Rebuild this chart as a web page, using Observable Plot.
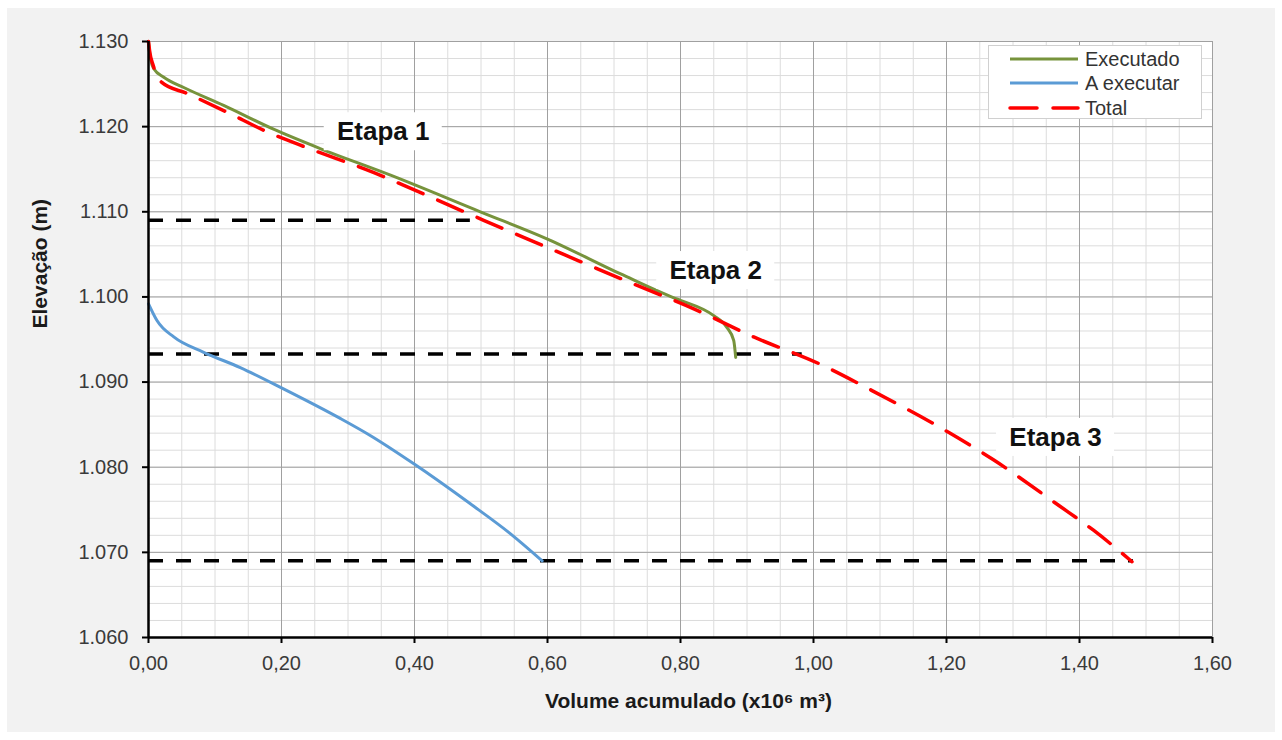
<!DOCTYPE html>
<html>
<head>
<meta charset="utf-8">
<script src="https://cdn.jsdelivr.net/npm/d3@7"></script>
<script src="https://cdn.jsdelivr.net/npm/@observablehq/plot@0.6"></script>
<style>
  html, body { margin: 0; padding: 0; background: #ffffff; }
  #panel { position: absolute; left: 7px; top: 8px; width: 1268px; height: 724px; background: #f2f2f2; }
  #chart { position: absolute; left: 0; top: 0; }
  #legend { position: absolute; left: 988px; top: 45px; width: 214px; height: 74px; background: #fff;
            border: 1px solid #d0d0d0; box-sizing: border-box; font-family: "Liberation Sans", Arial, sans-serif;
            font-size: 20px; color: #333; }
  .row { position: absolute; left: 0; height: 24px; width: 100%; }
  .row svg { position: absolute; left: 19px; top: 0; }
  .row span { position: absolute; left: 96px; top: 0; line-height: 24px; }
</style>
</head>
<body>
<div id="panel"></div>
<div id="chart"></div>
<div id="legend"></div>
<script>
// ---- data ----
const seriesNames = ["Executado", "A executar", "Total"];
const seriesColors = ["#77933c", "#5b9bd5", "#ff0000"];

const execVol  = [0, 0.003, 0.008, 0.023, 0.053, 0.113, 0.188, 0.259, 0.364, 0.499, 0.600, 0.710, 0.790, 0.800, 0.850, 0.870, 0.880, 0.883];
const execElev = [1130, 1128.0, 1126.8, 1125.8, 1124.6, 1122.5, 1119.7, 1117.4, 1114.3, 1110.0, 1106.8, 1102.7, 1099.9, 1099.6, 1097.8, 1096.4, 1094.9, 1092.9];

const aexecVol  = [0, 0.013, 0.038, 0.083, 0.138, 0.203, 0.289, 0.334, 0.399, 0.484, 0.544, 0.592];
const aexecElev = [1099.2, 1097.2, 1095.3, 1093.5, 1091.7, 1089.2, 1085.7, 1083.7, 1080.4, 1075.7, 1072.2, 1069.0];

const totalVol  = [0, 0.002, 0.007, 0.020, 0.058, 0.118, 0.178, 0.239, 0.339, 0.384, 0.504, 0.600, 0.730, 0.820, 0.910, 1.010, 1.088, 1.203, 1.270, 1.369, 1.421, 1.479];
const totalElev = [1130, 1128.7, 1127.2, 1125.2, 1123.9, 1121.7, 1119.4, 1117.5, 1114.6, 1113.1, 1109.0, 1105.8, 1101.5, 1098.6, 1095.3, 1092.1, 1089.0, 1084.1, 1080.9, 1075.5, 1072.6, 1068.9];

const levelElev  = [1109.0, 1093.3, 1069.0];
const levelStart = [0, 0, 0];
const levelEnd   = [0.484, 0.983, 1.481];

const etapaNames = ["Etapa 1", "Etapa 2", "Etapa 3"];
const etapaVol   = [0.353, 0.853, 1.364];
const etapaElev  = [1119.4, 1103.1, 1083.5];

const xTicks = [0, 0.2, 0.4, 0.6, 0.8, 1.0, 1.2, 1.4, 1.6];
const yTicks = [1060, 1070, 1080, 1090, 1100, 1110, 1120, 1130];
const xMinor = d3.range(0, 1.6001, 0.05);
const yMinor = d3.range(1060, 1130.001, 2);

const xTitle = "Volume acumulado (x10\u2076 m\u00b3)";
const yTitle = "Elevação (m)";

// ---- tables ----
const rows = (xs, ys) => xs.map((v, i) => ({v, e: ys[i]}));
const exec = rows(execVol, execElev);
const aexec = rows(aexecVol, aexecElev);
const total = rows(totalVol, totalElev);
const levels = levelElev.map((e, i) => ({e, x1: levelStart[i], x2: levelEnd[i]}));
const etapas = etapaNames.map((t, i) => ({t, v: etapaVol[i], e: etapaElev[i]}));

const loc = d3.formatLocale({decimal: ",", thousands: ".", grouping: [3], currency: ["", ""]});
const fx = loc.format(".2f");
const fy = loc.format(",.0f");

const font = "'Liberation Sans', Arial, sans-serif";

const chart = Plot.plot({
  width: 1282,
  height: 740,
  marginLeft: 148,
  marginRight: 70,
  marginTop: 41,
  marginBottom: 103,
  style: {fontFamily: font, background: "transparent", overflow: "visible"},
  x: {domain: [0, 1.6]},
  y: {domain: [1060, 1130]},
  marks: [
    Plot.frame({fill: "white"}),
    Plot.gridX(xMinor, {stroke: "#dcdcdc", strokeOpacity: 1, strokeWidth: 1}),
    Plot.gridY(yMinor, {stroke: "#dcdcdc", strokeOpacity: 1, strokeWidth: 1}),
    Plot.gridX(xTicks, {stroke: "#a0a0a0", strokeOpacity: 1, strokeWidth: 1}),
    Plot.gridY(yTicks, {stroke: "#a0a0a0", strokeOpacity: 1, strokeWidth: 1}),
    Plot.ruleY(levels, {y: "e", x1: "x1", x2: "x2", stroke: "#000", strokeWidth: 3.5, strokeDasharray: "15,13"}),
    Plot.line(exec, {x: "v", y: "e", stroke: seriesColors[0], strokeWidth: 3, curve: "monotone-x"}),
    Plot.line(aexec, {x: "v", y: "e", stroke: seriesColors[1], strokeWidth: 3, curve: "monotone-x"}),
    Plot.line(total, {x: "v", y: "e", stroke: seriesColors[2], strokeWidth: 3.5, strokeDasharray: "27,16", strokeLinecap: "round", curve: "monotone-x"}),
    Plot.rect(etapas, {x1: "v", x2: "v", y1: "e", y2: "e", insetLeft: -59, insetRight: -59, insetTop: -19, insetBottom: -19, fill: "white"}),
    Plot.text(etapas, {x: "v", y: "e", text: "t", fontSize: 26, fontWeight: "bold", fill: "#111"}),
    Plot.axisX(xTicks, {tickFormat: fx, fontSize: 20, tickSize: 6, tickPadding: 12, stroke: "#000", strokeWidth: 2, fill: "#3a3a3a", label: null}),
    Plot.axisY(yTicks, {tickFormat: fy, fontSize: 20, tickSize: 6, tickPadding: 14, stroke: "#000", strokeWidth: 2, fill: "#3a3a3a", label: null}),
    Plot.ruleX([0], {stroke: "#000", strokeWidth: 2.5}),
    Plot.ruleY([1060], {stroke: "#000", strokeWidth: 2.5}),
    Plot.text([xTitle], {text: d => d, frameAnchor: "bottom", dx: 8, dy: 70, fontSize: 21, fontWeight: "bold", fill: "#1a1a1a"}),
    Plot.text([yTitle], {text: d => d, frameAnchor: "left", rotate: -90, dx: -108, dy: -11, fontSize: 21, fontWeight: "bold", fill: "#1a1a1a"})
  ]
});
document.getElementById("chart").appendChild(chart);

// ---- legend ----
const legend = document.getElementById("legend");
const rowTops = [0, 24, 49];
seriesNames.forEach((name, i) => {
  const row = document.createElement("div");
  row.className = "row";
  row.style.top = (rowTops[i] + 1) + "px";
  const dash = i === 2 ? 'stroke-dasharray="27,16" stroke-linecap="round"' : "";
  row.innerHTML = `<svg width="72" height="24"><line x1="2" x2="70" y1="12" y2="12" stroke="${seriesColors[i]}" stroke-width="${i === 2 ? 3.5 : 3}" ${dash}/></svg><span>${name}</span>`;
  legend.appendChild(row);
});
</script>
</body>
</html>
